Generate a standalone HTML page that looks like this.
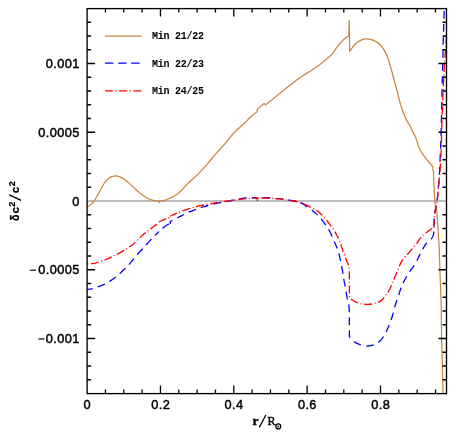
<!DOCTYPE html>
<html><head><meta charset="utf-8">
<style>
html,body{margin:0;padding:0;background:#fff;}
body{width:457px;height:433px;overflow:hidden;}
svg{display:block;will-change:transform;}
.tk{font-family:"Liberation Sans",sans-serif;font-size:12.8px;fill:#000;stroke:#000;stroke-width:0.45px;letter-spacing:0.4px;}
.lg{font-family:"Liberation Mono",monospace;font-weight:bold;font-size:10px;letter-spacing:-0.25px;fill:#000;}
.ax{font-family:"Liberation Serif",serif;fill:#000;stroke:#000;stroke-width:0.35px;}
.ay{font-family:"Liberation Sans",sans-serif;font-weight:bold;font-size:10.6px;fill:#000;stroke:#000;stroke-width:0.25px;}
.ay2{font-family:"Liberation Sans",sans-serif;font-weight:bold;font-size:8.2px;fill:#000;stroke:#000;stroke-width:0.2px;}
</style></head><body>
<svg width="457" height="433" viewBox="0 0 457 433">
<rect width="457" height="433" fill="#fff"/>
<defs><clipPath id="cp"><rect x="87.1" y="8.6" width="359.79999999999995" height="385.0"/></clipPath></defs>
<path d="M87.1,201.0 H446.5" stroke="#a9a9a9" stroke-width="1.5" fill="none"/>
<g clip-path="url(#cp)" fill="none" stroke-linejoin="round">
<path d="M87.20,206.80 C87.72,206.50 89.25,205.83 90.30,205.00 C91.35,204.17 92.42,203.22 93.50,201.80 C94.58,200.38 95.58,198.58 96.80,196.50 C98.02,194.42 99.48,191.60 100.80,189.30 C102.12,187.00 103.40,184.52 104.70,182.70 C106.00,180.88 107.40,179.42 108.60,178.40 C109.80,177.38 110.68,177.02 111.90,176.60 C113.12,176.18 114.58,175.87 115.90,175.90 C117.22,175.93 118.38,176.22 119.80,176.80 C121.22,177.38 122.77,178.27 124.40,179.40 C126.03,180.53 127.85,182.07 129.60,183.60 C131.35,185.13 133.15,187.00 134.90,188.60 C136.65,190.20 138.42,191.85 140.10,193.20 C141.78,194.55 143.53,195.73 145.00,196.70 C146.47,197.67 147.33,198.35 148.90,199.00 C150.47,199.65 152.78,200.27 154.40,200.60 C156.02,200.93 157.90,200.93 158.60,201.00 L158.60,201.00 L159.20,202.60 L159.80,201.00 L159.80,201.00 C160.63,200.88 162.93,200.83 164.80,200.30 C166.67,199.77 169.15,198.68 171.00,197.80 C172.85,196.92 174.68,195.73 175.90,195.00 C177.12,194.27 177.12,194.45 178.30,193.40 C179.48,192.35 181.30,190.47 183.00,188.70 C184.70,186.93 186.05,185.17 188.50,182.80 C190.95,180.43 194.62,177.57 197.70,174.50 C200.78,171.43 203.92,167.93 207.00,164.40 C210.08,160.87 213.12,156.85 216.20,153.30 C219.28,149.75 222.42,146.65 225.50,143.10 C228.58,139.55 231.63,135.23 234.70,132.00 C237.77,128.77 241.20,126.25 243.90,123.70 C246.60,121.15 248.72,118.68 250.90,116.70 C253.08,114.72 255.98,112.62 257.00,111.80 L257.00,111.80 L257.50,109.10 L261.90,105.20 L264.10,103.40 L265.40,104.90 L265.40,104.90 C266.63,103.95 270.37,101.15 272.80,99.20 C275.23,97.25 276.98,95.67 280.00,93.20 C283.02,90.73 287.25,87.22 290.90,84.40 C294.55,81.58 298.25,78.78 301.90,76.30 C305.55,73.82 309.15,71.98 312.80,69.50 C316.45,67.02 320.62,63.93 323.80,61.40 C326.98,58.87 329.73,56.63 331.90,54.30 C334.07,51.97 335.18,49.52 336.80,47.40 C338.42,45.28 340.10,43.22 341.60,41.60 C343.10,39.98 344.60,38.63 345.80,37.70 C347.00,36.77 348.30,36.28 348.80,36.00 L348.80,36.00 L349.20,20.60 L349.70,51.60 L349.70,51.60 C350.20,50.85 351.50,48.60 352.70,47.10 C353.90,45.60 355.40,43.82 356.90,42.60 C358.40,41.38 360.08,40.43 361.70,39.80 C363.32,39.17 364.98,38.83 366.60,38.80 C368.22,38.77 369.78,39.10 371.40,39.60 C373.02,40.10 374.80,40.90 376.30,41.80 C377.80,42.70 378.95,43.37 380.40,45.00 C381.85,46.63 383.65,49.10 385.00,51.60 C386.35,54.10 387.35,56.68 388.50,60.00 C389.65,63.32 390.83,67.65 391.90,71.50 C392.97,75.35 394.07,80.02 394.90,83.10 C395.73,86.18 396.08,86.88 396.90,90.00 C397.72,93.12 398.67,97.88 399.80,101.80 C400.93,105.72 402.55,110.40 403.70,113.50 C404.85,116.60 405.72,118.43 406.70,120.40 C407.68,122.37 408.63,123.50 409.60,125.30 C410.57,127.10 411.52,129.23 412.50,131.20 C413.48,133.17 414.67,135.15 415.50,137.10 C416.33,139.05 416.85,140.95 417.50,142.90 C418.15,144.85 418.58,147.00 419.40,148.80 C420.22,150.60 421.42,152.23 422.40,153.70 C423.38,155.17 424.17,156.13 425.30,157.60 C426.43,159.07 428.08,161.17 429.20,162.50 C430.32,163.83 431.40,164.68 432.00,165.60 C432.60,166.52 432.67,167.60 432.80,168.00 L432.80,168.00 L433.40,172.00 L434.00,185.80 L434.70,201.10 L436.30,210.00 L436.80,211.50 L437.80,225.00 L439.10,245.80 L439.90,269.80 L440.75,293.75 L441.20,305.00 L441.60,338.30 L442.40,367.50 L443.10,393.60" stroke="#cd853f" stroke-width="1.25"/>
<path d="M87.20,289.30 C87.67,289.27 89.03,289.23 90.00,289.10 C90.97,288.97 91.47,288.95 93.00,288.50 C94.53,288.05 97.23,287.13 99.20,286.40 C101.17,285.67 102.95,285.02 104.80,284.10 C106.65,283.18 108.57,282.02 110.30,280.90 C112.03,279.78 113.58,278.67 115.20,277.40 C116.82,276.13 118.27,274.83 120.00,273.30 C121.73,271.77 123.75,270.05 125.60,268.20 C127.45,266.35 129.15,264.48 131.10,262.20 C133.05,259.92 135.33,256.80 137.30,254.50 C139.27,252.20 141.08,250.38 142.90,248.40 C144.72,246.42 146.28,244.68 148.20,242.60 C150.12,240.52 152.65,237.67 154.40,235.90 C156.15,234.13 157.98,232.65 158.70,232.00" stroke="#0000ff" stroke-width="1.3" stroke-dasharray="7.80 5.20" stroke-dashoffset="2.22"/>
<path d="M158.70,232.00 L158.70,230.40 L158.70,230.40 C159.30,230.05 161.22,229.00 162.30,228.30 C163.38,227.60 164.22,226.85 165.20,226.20 C166.18,225.55 167.37,224.77 168.20,224.40 C169.03,224.03 169.87,224.07 170.20,224.00" stroke="#0000ff" stroke-width="1.3" stroke-dasharray="7.80 5.20" stroke-dashoffset="7.23"/>
<path d="M170.20,224.00 L170.30,221.40 L170.30,221.40 C171.00,221.10 173.07,220.33 174.50,219.60 C175.93,218.87 177.75,217.63 178.90,217.00 C180.05,216.37 180.30,216.35 181.40,215.80 C182.50,215.25 184.07,214.40 185.50,213.70 C186.93,213.00 188.37,212.27 190.00,211.60 C191.63,210.93 193.12,210.47 195.30,209.70 C197.48,208.93 200.48,207.82 203.10,207.00 C205.72,206.18 208.15,205.52 211.00,204.80 C213.85,204.08 217.13,203.35 220.20,202.70 C223.27,202.05 226.12,201.55 229.40,200.90 C232.68,200.25 236.83,199.30 239.90,198.80 C242.97,198.30 244.87,198.10 247.80,197.90 C250.73,197.70 255.88,197.65 257.50,197.60" stroke="#0000ff" stroke-width="1.3" stroke-dasharray="7.80 5.20" stroke-dashoffset="2.80"/>
<path d="M257.50,197.40 C259.80,197.50 267.70,197.78 271.30,198.00 C274.90,198.22 276.70,198.43 279.10,198.70 C281.50,198.97 283.50,199.27 285.70,199.60 C287.90,199.93 290.02,200.30 292.30,200.70 C294.58,201.10 296.83,200.92 299.40,202.00 C301.97,203.08 305.17,205.48 307.70,207.20 C310.23,208.92 312.52,210.52 314.60,212.30 C316.68,214.08 318.47,215.93 320.20,217.90 C321.93,219.87 323.38,221.80 325.00,224.10 C326.62,226.40 328.28,228.58 329.90,231.70 C331.52,234.82 333.43,239.92 334.70,242.80 C335.97,245.68 336.77,247.07 337.50,249.00 C338.23,250.93 338.60,252.50 339.10,254.40 C339.60,256.30 340.03,258.13 340.50,260.40 C340.97,262.67 341.48,265.80 341.90,268.00 C342.32,270.20 342.67,271.60 343.00,273.60 C343.33,275.60 343.52,277.82 343.90,280.00 C344.28,282.18 344.90,284.53 345.30,286.70 C345.70,288.87 345.95,290.92 346.30,293.00 C346.65,295.08 347.00,297.37 347.40,299.20 C347.80,301.03 348.38,302.20 348.70,304.00 C349.02,305.80 349.20,309.00 349.30,310.00 L349.30,310.00 L349.40,336.60 L349.40,336.60 C350.15,337.40 352.35,340.13 353.90,341.40 C355.45,342.67 356.40,343.43 358.70,344.20 C361.00,344.97 365.27,345.88 367.70,346.00 C370.13,346.12 371.22,345.78 373.30,344.90 C375.38,344.02 378.37,342.32 380.20,340.70 C382.03,339.08 383.03,337.27 384.30,335.20 C385.57,333.13 386.52,331.30 387.80,328.30 C389.08,325.30 390.73,321.13 392.00,317.20 C393.27,313.27 394.32,308.30 395.40,304.70 C396.48,301.10 397.60,298.30 398.50,295.60 C399.40,292.90 399.92,290.83 400.80,288.50 C401.68,286.17 402.42,284.25 403.80,281.60 C405.18,278.95 407.18,275.60 409.10,272.60 C411.02,269.60 413.45,266.72 415.30,263.60 C417.15,260.48 418.65,256.87 420.20,253.90 C421.75,250.93 423.38,247.75 424.60,245.80 C425.82,243.85 426.33,243.40 427.50,242.20 C428.67,241.00 430.60,239.82 431.60,238.60 C432.60,237.38 433.18,235.52 433.50,234.90" stroke="#0000ff" stroke-width="1.3" stroke-dasharray="7.80 5.20" stroke-dashoffset="8.09"/>
<path d="M433.50,234.90 L433.90,229.70 L434.20,220.40 L434.70,213.10 L435.80,208.00 L437.50,197.00 L438.90,181.70 L439.60,170.60 L440.20,156.70 L440.80,142.80 L441.50,118.30 L442.00,92.00 L442.80,64.20 L443.10,44.30 L443.70,27.80 L444.20,10.90 L444.30,8.00" stroke="#0000ff" stroke-width="1.3" stroke-dasharray="7.80 5.20" stroke-dashoffset="4.41"/>
<path d="M87.20,263.90 C87.83,263.87 89.80,263.80 91.00,263.70 C92.20,263.60 93.03,263.60 94.40,263.30 C95.77,263.00 97.23,262.55 99.20,261.90 C101.17,261.25 104.12,260.23 106.20,259.40 C108.28,258.57 109.63,257.87 111.70,256.90 C113.77,255.93 116.28,254.85 118.60,253.60 C120.92,252.35 123.28,250.87 125.60,249.40 C127.92,247.93 130.52,246.37 132.50,244.80 C134.48,243.23 135.70,241.72 137.50,240.00 C139.30,238.28 141.52,236.05 143.30,234.50 C145.08,232.95 146.47,232.02 148.20,230.70 C149.93,229.38 151.95,227.90 153.70,226.60 C155.45,225.30 157.87,223.52 158.70,222.90" stroke="#ff0000" stroke-width="1.3" stroke-dasharray="7.90 2.55 1.00 2.55" stroke-dashoffset="10.19"/>
<path d="M158.70,222.00 C159.25,221.75 160.63,221.08 162.00,220.50 C163.37,219.92 165.52,219.08 166.90,218.50 C168.28,217.92 169.73,217.25 170.30,217.00" stroke="#ff0000" stroke-width="1.3" stroke-dasharray="8.00 2.60 1.00 2.60" stroke-dashoffset="0.00"/>
<path d="M170.30,216.30 C171.12,215.90 173.58,214.65 175.20,213.90 C176.82,213.15 178.03,212.57 180.00,211.80 C181.97,211.03 184.95,209.98 187.00,209.30 C189.05,208.62 190.48,208.23 192.30,207.70 C194.12,207.17 195.43,206.65 197.90,206.10 C200.37,205.55 204.03,204.97 207.10,204.40 C210.17,203.83 213.47,203.18 216.30,202.70 C219.13,202.22 221.48,201.87 224.10,201.50 C226.72,201.13 229.15,200.88 232.00,200.50 C234.85,200.12 238.57,199.53 241.20,199.20 C243.83,198.87 245.85,198.67 247.80,198.50 C249.75,198.33 251.35,198.27 252.90,198.20 C254.45,198.13 256.40,198.12 257.10,198.10 L257.10,198.10 L257.50,200.90" stroke="#ff0000" stroke-width="1.3" stroke-dasharray="8.00 2.60 1.00 2.60" stroke-dashoffset="0.71"/>
<path d="M257.50,200.90 L257.90,198.00 L257.90,198.00 C258.60,198.00 259.87,197.97 262.10,198.00 C264.33,198.03 268.47,198.05 271.30,198.20 C274.13,198.35 276.70,198.63 279.10,198.90 C281.50,199.17 283.50,199.47 285.70,199.80 C287.90,200.13 290.02,200.48 292.30,200.90 C294.58,201.32 297.07,201.58 299.40,202.30 C301.73,203.02 304.00,204.17 306.30,205.20 C308.60,206.23 311.12,207.38 313.20,208.50 C315.28,209.62 317.07,210.50 318.80,211.90 C320.53,213.30 321.98,215.10 323.60,216.90 C325.22,218.70 327.00,220.80 328.50,222.70 C330.00,224.60 331.22,226.22 332.60,228.30 C333.98,230.38 335.63,233.13 336.80,235.20 C337.97,237.27 338.67,238.32 339.60,240.70 C340.53,243.08 341.60,247.15 342.40,249.50 C343.20,251.85 343.68,252.87 344.40,254.80 C345.12,256.73 345.97,259.37 346.70,261.10 C347.43,262.83 348.45,264.52 348.80,265.20 L348.80,265.20 L349.30,270.00 L349.50,297.30 L349.50,297.30 C349.92,297.72 351.07,299.07 352.00,299.80 C352.93,300.53 353.75,301.08 355.10,301.70 C356.45,302.32 358.05,303.05 360.10,303.50 C362.15,303.95 365.05,304.40 367.40,304.40 C369.75,304.40 371.90,304.13 374.20,303.50 C376.50,302.87 379.30,301.95 381.20,300.60 C383.10,299.25 384.18,297.30 385.60,295.40 C387.02,293.50 388.55,291.27 389.70,289.20 C390.85,287.13 391.58,285.20 392.50,283.00 C393.42,280.80 394.28,278.20 395.20,276.00 C396.12,273.80 397.07,271.98 398.00,269.80 C398.93,267.62 399.68,264.98 400.80,262.90 C401.92,260.82 403.43,258.92 404.70,257.30 C405.97,255.68 407.08,254.70 408.40,253.20 C409.72,251.70 411.15,250.03 412.60,248.30 C414.05,246.57 416.00,244.25 417.10,242.80 C418.20,241.35 418.17,240.92 419.20,239.60 C420.23,238.28 421.92,236.20 423.30,234.90 C424.68,233.60 426.12,232.83 427.50,231.80 C428.88,230.77 430.53,229.38 431.60,228.70 C432.67,228.02 433.52,227.87 433.90,227.70" stroke="#ff0000" stroke-width="1.3" stroke-dasharray="8.00 2.60 1.00 2.60" stroke-dashoffset="7.60"/>
<path d="M433.90,227.70 L434.20,218.30 L435.20,210.00 L436.00,208.00 L437.60,197.00 L439.00,181.70 L440.20,169.20 L441.20,149.70 L441.90,123.30 L442.80,100.30 L443.40,85.00 L444.50,64.20 L445.20,54.00 L445.90,43.60 L447.50,25.00" stroke="#ff0000" stroke-width="1.3" stroke-dasharray="8.00 2.60 1.00 2.60" stroke-dashoffset="0.00"/>
</g>
<path d="M105.44,393.60 v-4.00 M105.44,8.60 v4.00 M123.77,393.60 v-4.00 M123.77,8.60 v4.00 M142.11,393.60 v-4.00 M142.11,8.60 v4.00 M160.45,393.60 v-8.00 M160.45,8.60 v8.00 M178.78,393.60 v-4.00 M178.78,8.60 v4.00 M197.12,393.60 v-4.00 M197.12,8.60 v4.00 M215.46,393.60 v-4.00 M215.46,8.60 v4.00 M233.79,393.60 v-8.00 M233.79,8.60 v8.00 M252.13,393.60 v-4.00 M252.13,8.60 v4.00 M270.47,393.60 v-4.00 M270.47,8.60 v4.00 M288.80,393.60 v-4.00 M288.80,8.60 v4.00 M307.14,393.60 v-8.00 M307.14,8.60 v8.00 M325.48,393.60 v-4.00 M325.48,8.60 v4.00 M343.81,393.60 v-4.00 M343.81,8.60 v4.00 M362.15,393.60 v-4.00 M362.15,8.60 v4.00 M380.49,393.60 v-8.00 M380.49,8.60 v8.00 M398.82,393.60 v-4.00 M398.82,8.60 v4.00 M417.16,393.60 v-4.00 M417.16,8.60 v4.00 M435.50,393.60 v-4.00 M435.50,8.60 v4.00 M87.10,379.75 h4.00 M446.50,379.75 h-4.00 M87.10,366.00 h4.00 M446.50,366.00 h-4.00 M87.10,352.25 h4.00 M446.50,352.25 h-4.00 M87.10,338.50 h8.00 M446.50,338.50 h-8.00 M87.10,324.75 h4.00 M446.50,324.75 h-4.00 M87.10,311.00 h4.00 M446.50,311.00 h-4.00 M87.10,297.25 h4.00 M446.50,297.25 h-4.00 M87.10,283.50 h4.00 M446.50,283.50 h-4.00 M87.10,269.75 h8.00 M446.50,269.75 h-8.00 M87.10,256.00 h4.00 M446.50,256.00 h-4.00 M87.10,242.25 h4.00 M446.50,242.25 h-4.00 M87.10,228.50 h4.00 M446.50,228.50 h-4.00 M87.10,214.75 h4.00 M446.50,214.75 h-4.00 M87.10,187.25 h4.00 M446.50,187.25 h-4.00 M87.10,173.50 h4.00 M446.50,173.50 h-4.00 M87.10,159.75 h4.00 M446.50,159.75 h-4.00 M87.10,146.00 h4.00 M446.50,146.00 h-4.00 M87.10,132.25 h8.00 M446.50,132.25 h-8.00 M87.10,118.50 h4.00 M446.50,118.50 h-4.00 M87.10,104.75 h4.00 M446.50,104.75 h-4.00 M87.10,91.00 h4.00 M446.50,91.00 h-4.00 M87.10,77.25 h4.00 M446.50,77.25 h-4.00 M87.10,63.50 h8.00 M446.50,63.50 h-8.00 M87.10,49.75 h4.00 M446.50,49.75 h-4.00 M87.10,36.00 h4.00 M446.50,36.00 h-4.00 M87.10,22.25 h4.00 M446.50,22.25 h-4.00" stroke="#000" stroke-width="1.3" fill="none"/>
<rect x="87.1" y="8.6" width="359.4" height="385.0" fill="none" stroke="#000" stroke-width="1.35"/>
<text x="87.35" y="409.2" text-anchor="middle" class="tk">0</text>
<text x="160.70" y="409.2" text-anchor="middle" class="tk">0.2</text>
<text x="234.04" y="409.2" text-anchor="middle" class="tk">0.4</text>
<text x="307.39" y="409.2" text-anchor="middle" class="tk">0.6</text>
<text x="380.74" y="409.2" text-anchor="middle" class="tk">0.8</text>
<text x="79.8" y="68.10" text-anchor="end" class="tk">0.001</text>
<text x="79.8" y="136.85" text-anchor="end" class="tk">0.0005</text>
<text x="79.8" y="205.60" text-anchor="end" class="tk">0</text>
<text x="79.8" y="274.35" text-anchor="end" class="tk">0.0005</text>
<path d="M29.90,270.20 h6.2" stroke="#000" stroke-width="1.15" fill="none"/>
<text x="79.8" y="343.10" text-anchor="end" class="tk">0.001</text>
<path d="M38.30,338.95 h6.2" stroke="#000" stroke-width="1.15" fill="none"/>

<path d="M105,36 H141.7" stroke="#cd853f" stroke-width="1.25"/>
<path d="M105,63.2 H141.7" stroke="#0000ff" stroke-width="1.3" stroke-dasharray="8.4 4.7"/>
<path d="M105,90.8 H141.7" stroke="#ff0000" stroke-width="1.3" stroke-dasharray="8 2.6 1 2.6"/>
<text x="152" y="39.4" class="lg">Min 21/22</text>
<text x="152" y="66.6" class="lg">Min 22/23</text>
<text x="152" y="94.2" class="lg">Min 24/25</text>
<text x="252.5" y="425.2" class="ax" font-size="13.4px" font-weight="bold" stroke-width="0.1">r</text>
<path d="M259.3,427.4 L265.9,415.0" stroke="#000" stroke-width="1.25" fill="none"/>
<text x="267.5" y="425.2" class="ax" font-size="12px">R</text>
<circle cx="278.3" cy="426.4" r="2.45" fill="none" stroke="#000" stroke-width="1.25"/>
<circle cx="278.3" cy="426.4" r="0.85" fill="#000"/>
<g transform="translate(19.2,220.6) rotate(-90)">
<text x="-0.3" y="0" class="ay" transform="scale(1,1.22)">δ</text>
<text x="6.5" y="0" class="ay" transform="scale(1.1,1)">c</text>
<text x="12.7" y="-4.1" class="ay2" transform="scale(1.1,1)">2</text>
<path d="M20.2,1.9 L25.8,-10" stroke="#000" stroke-width="1.3" fill="none"/>
<text x="24.8" y="0" class="ay" transform="scale(1.1,1)">c</text>
<text x="31.2" y="-4.1" class="ay2" transform="scale(1.1,1)">2</text>
</g>
</svg>
</body></html>
